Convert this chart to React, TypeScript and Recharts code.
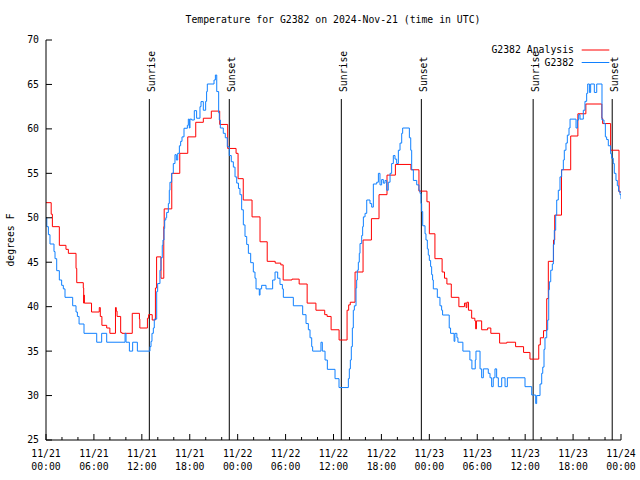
import React from 'react';
import { LineChart, Line, XAxis, YAxis, ReferenceLine, Legend } from 'recharts';

// hours since 11/21 00:00 UTC
const analysisHours = [
  0, 0.65, 0.8, 1.67, 2.5, 2.8, 3.76, 3.85, 4.67, 4.72, 4.75, 4.8, 5.7, 6.67, 6.8, 7.0, 7.6, 8.0,
  8.7, 8.8, 8.9, 9.35, 9.5, 10.8, 11.7, 11.75, 12.7, 12.85, 13.3, 13.7, 13.85, 14.4, 14.75, 14.8,
  15.75, 16.75, 17.75, 18.75, 19.7, 20.7, 21.75, 22.75, 23.8, 24.05, 24.7, 25.8, 26.8, 27.7, 28.7,
  29.4, 29.7, 30.8, 31.7, 32.7, 33.8, 34.9, 35.2, 35.7, 36.7, 37.7, 37.9, 38.1, 38.7, 39.7, 40.75,
  41.7, 42.7, 43.75, 45.7, 46.7, 47.7, 48.0, 48.7, 49.6, 49.9, 50.2, 50.75, 51.7, 52.4, 52.6, 52.7,
  52.9, 53.3, 53.7, 53.8, 53.9, 54.55, 55.3, 55.7, 56.8, 57.7, 58.8, 59.8, 60.6, 61.7, 61.9, 62.3,
  62.7, 62.9, 63.55, 63.7, 64.55, 65.7, 66.6, 67.6, 69.6, 69.7, 70.7, 71.75, 72,
];
const analysisTemps = [
  51.7, 50.4, 49.0, 46.9, 46.45, 46.0, 44.3, 42.7, 42.1, 40.4, 41.3, 40.4, 39.4, 39.9, 38.9, 37.9, 37.6, 37.0,
  39.9, 39.5, 38.9, 37.1, 37.0, 39.25, 38.6, 37.6, 38.7, 39.1, 38.5, 42.1, 45.6, 43.2, 49.0, 51.0,
  55.0, 57.25, 59.1, 60.74, 61.2, 62.0, 60.5, 57.8, 57.25, 54.4, 52.0, 50.1, 47.3, 45.1, 44.9,
  44.7, 43.0, 43.1, 42.55, 40.4, 39.6, 39.1, 38.9, 37.4, 36.25, 39.6, 40.2, 40.5, 43.9, 47.5, 49.9,
  52.6, 54.8, 56.0, 55.4, 53.0, 51.8, 48.2, 45.4, 43.9, 43.2, 42.55, 41.05, 40.0, 40.4, 39.9, 40.5,
  39.6, 38.7, 38.4, 37.5, 38.4, 37.4, 37.6, 37.0, 35.9, 36.0, 35.5, 34.85, 34.1, 35.7, 36.5, 37.3,
  40.9, 45.1, 47.5, 50.3, 55.4, 59.2, 61.7, 62.8, 61.2, 60.6, 57.6, 52.9, 52.9,
];

const stationHours = [
  0, 0.1, 0.3, 0.5, 1.0, 1.13, 1.34, 1.67, 1.96, 2.17, 2.38, 3.34, 3.76, 3.93, 4.14, 4.76, 6.35, 6.97,
  7.6, 9.9, 10.02, 10.44, 10.85, 11.44, 13.02, 13.15, 13.27, 13.44, 13.56, 13.86, 13.98, 14.27, 14.4,
  14.56, 14.65, 14.78, 14.86, 15.0, 15.11, 15.32, 15.44, 15.52, 15.73, 15.94, 16.15, 16.32, 16.49,
  16.7, 16.86, 17.03, 17.28, 17.7, 17.82, 17.95, 18.03, 18.24, 18.57, 18.86, 19.28, 19.41, 19.7,
  19.99, 20.11, 20.2, 21.04, 21.21, 21.38, 21.62, 21.7, 21.83, 22.2, 22.45, 22.7, 22.95, 23.2, 23.46,
  23.67, 23.88, 24.1, 24.29, 24.5, 24.71, 24.92, 25.13, 25.34, 25.63, 25.96, 26.17, 26.3, 26.71, 26.8,
  27.0, 27.55, 28.38, 28.68, 29.01, 29.3, 29.6, 29.72, 30.97, 32.14, 32.56, 32.85, 33.06, 33.27, 33.39,
  34.43, 34.6, 34.94, 35.23, 36.19, 36.69, 37.86, 37.98, 38.11, 38.23, 38.36, 38.48, 38.61, 38.82,
  38.9, 38.98, 39.11, 39.23, 39.32, 39.53, 39.65, 39.74, 39.95, 40.16, 40.57, 40.78, 40.99, 41.41,
  41.62, 41.82, 42.03, 42.24, 42.45, 42.66, 42.86, 43.08, 43.28, 43.49, 43.7, 43.91, 44.12, 44.33,
  44.54, 44.66, 45.5, 45.67, 45.79, 46.0, 46.42, 46.7, 46.83, 46.96, 47.04, 47.17, 47.46, 47.58,
  47.75, 47.87, 48.0, 48.16, 48.29, 48.41, 48.5, 49.0, 49.33, 49.54, 49.66, 50.49, 50.66, 51.1, 51.2,
  51.45, 51.58, 52.2, 53.08, 53.33, 53.75, 53.84, 54.35, 54.55, 54.76, 55.38, 55.6, 55.8, 56.0, 56.22,
  56.43, 56.64, 57.06, 57.48, 57.77, 59.98, 60.82, 61.32, 61.44, 61.86, 62.07, 62.2, 62.36, 62.48,
  62.7, 62.82, 62.95, 63.03, 63.2, 63.4, 63.53, 63.65, 63.82, 63.95, 64.15, 64.36, 64.57, 64.78,
  64.9, 65.11, 65.28, 65.49, 65.62, 66.37, 66.54, 66.7, 66.87, 67.28, 67.49, 67.7, 67.83, 68.04,
  68.2, 68.66, 68.96, 69.62, 69.87, 70.04, 70.2, 70.41, 70.7, 70.83, 71.03, 71.16, 71.37, 71.54,
  71.7, 71.87, 72.0,
];
const stationTemps = [
  50.0, 49.0, 48.1, 47.05, 46.2, 45.4, 44.05, 43.0, 42.4, 42.0, 41.05, 40.1, 39.4, 38.9, 38.05, 37.0, 36.0, 37.0,
  36.0, 37.0, 36.0, 35.0, 36.0, 35.0, 35.5, 36.1, 37.0, 37.6, 38.6, 41.7, 42.6, 44.1, 45.5,
  46.9, 47.5, 48.8, 49.75, 50.0, 50.6, 51.6, 53.1, 54.0, 55.0, 56.1, 57.1, 56.5, 57.25,
  58.1, 58.6, 59.1, 60.07, 60.4, 61.1, 60.1, 61.1, 61.0, 62.05, 61.2, 62.5, 63.07, 62.1,
  63.1, 64.2, 65.05, 65.5, 66.06, 64.2, 61.8, 61.0, 60.1, 59.5, 59.0, 58.0, 57.0, 56.3, 55.7,
  54.6, 53.9, 53.3, 52.6, 50.9, 49.2, 47.9, 47.0, 46.0, 44.95, 43.9, 43.2, 42.0, 41.3, 42.0,
  42.4, 42.0, 43.0, 43.9, 43.2, 42.5, 42.0, 41.05, 40.1, 39.1, 38.1, 37.4, 36.5, 35.5, 35.0,
  36.0, 35.0, 34.0, 32.95, 31.9, 30.9, 31.9, 33.0, 34.0, 35.5, 37.6, 39.6, 40.1, 42.1,
  43.0, 44.1, 45.0, 46.0, 47.1, 48.0, 49.0, 50.1, 50.5, 52.0, 51.6, 51.2, 53.8, 54.0,
  55.0, 53.7, 54.3, 53.9, 54.2, 53.1, 54.0, 55.0, 56.1, 57.0, 56.6, 56.1, 57.6, 58.4,
  59.5, 60.1, 59.0, 57.6, 55.4, 54.2, 53.7, 53.1, 52.75, 51.6, 50.7, 49.1, 48.2, 47.5,
  46.5, 45.8, 45.2, 44.5, 43.6, 43.0, 42.0, 41.05, 40.1, 39.6, 39.06, 37.6, 37.0, 36.1, 37.0,
  36.5, 36.0, 35.0, 34.0, 33.0, 34.0, 35.0, 33.0, 32.0, 33.0, 32.5, 32.0, 31.0, 32.0, 33.0,
  32.0, 31.0, 32.0, 31.0, 32.0, 31.0, 30.06, 29.1, 30.0, 31.3, 32.5, 33.2, 35.2, 36.5,
  37.4, 38.5, 41.9, 42.8, 44.1, 44.8, 47.0, 48.6, 50.3, 52.0, 53.1, 54.6, 55.4, 56.5,
  57.6, 58.4, 59.3, 60.1, 61.1, 60.1, 61.0, 61.6, 61.1, 62.1, 63.1, 64.0, 65.05, 64.1,
  65.05, 64.1, 65.05, 61.0, 60.6, 59.1, 58.8, 58.1, 57.2, 56.7, 56.1, 55.0, 54.2, 53.6,
  53.0, 52.6, 52.1,
];

const seriesNames = ['G2382 Analysis', 'G2382'];
const seriesColors = ['#ff0000', '#1080ff'];

const sunHours = [12.94, 22.95, 36.98, 47.0, 61.0, 70.9];
const sunLabels = ['Sunrise', 'Sunset', 'Sunrise', 'Sunset', 'Sunrise', 'Sunset'];
const sunLineTop = 63.36;

const xTickHours = [0, 6, 12, 18, 24, 30, 36, 42, 48, 54, 60, 66, 72];
const xTickDates = ['11/21', '11/21', '11/21', '11/21', '11/22', '11/22', '11/22', '11/22', '11/23', '11/23', '11/23', '11/23', '11/24'];
const xTickTimes = ['00:00', '06:00', '12:00', '18:00', '00:00', '06:00', '12:00', '18:00', '00:00', '06:00', '12:00', '18:00', '00:00'];
const xMinorTicks = Array.from({ length: 37 }, (_, i) => i * 2);
const yTicks = [25, 30, 35, 40, 45, 50, 55, 60, 65, 70];

const analysisData = analysisHours.map((h, i) => ({ h, t: analysisTemps[i] }));
const stationData = stationHours.map((h, i) => ({ h, t: stationTemps[i] }));

const FONT = '"DejaVu Sans Mono", monospace';
const FS = 9.8;
const txt = { fontFamily: FONT, fontSize: FS, fill: '#000' };

const BottomTick = (props: any) => {
  const { x, y, payload } = props;
  const i = xTickHours.indexOf(payload.value);
  const major = i >= 0;
  return (
    <g>
      <line x1={x} y1={y} x2={x} y2={y - (major ? 6 : 3)} stroke="#000" />
      {major && <text x={x} y={y + 17} textAnchor="middle" style={txt}>{xTickDates[i]}</text>}
      {major && <text x={x} y={y + 30} textAnchor="middle" style={txt}>{xTickTimes[i]}</text>}
    </g>
  );
};

const TopTick = (props: any) => {
  const { x, y, payload } = props;
  const major = xTickHours.includes(payload.value);
  return <line x1={x} y1={y} x2={x} y2={y + (major ? 6 : 3)} stroke="#000" />;
};

const LeftTick = (props: any) => {
  const { x, y, payload } = props;
  return (
    <g>
      <line x1={x} y1={y} x2={x + 6} y2={y} stroke="#000" />
      <text x={x - 7} y={y} dy="0.35em" textAnchor="end" style={txt}>{payload.value}</text>
    </g>
  );
};

const RightTick = (props: any) => {
  const { x, y } = props;
  return <line x1={x} y1={y} x2={x - 6} y2={y} stroke="#000" />;
};

const SunLabel = (props: any) => {
  const vb = props.viewBox || {};
  const x = vb.x ?? vb.x1 ?? 0;
  const top = vb.y ?? Math.min(vb.y1 ?? 0, vb.y2 ?? 0);
  const bx = x + 5.7;
  const by = top - 7;
  return (
    <text x={bx} y={by} transform={`rotate(-90, ${bx}, ${by})`} textAnchor="start" style={txt}>
      {props.text}
    </text>
  );
};

const LegendBox = (props: any) => {
  const items = props.payload || [];
  const colorOf = (name: string, i: number) => {
    const e = items.find((it: any) => it.value === name);
    return e ? e.color : seriesColors[i];
  };
  return (
    <svg width={140} height={28} style={{ display: 'block' }}>
      {seriesNames.map((name, i) => (
        <g key={name}>
          <text x={94} y={7 + 12.5 * i} dy="0.35em" textAnchor="end" style={txt}>{name}</text>
          <line x1={101.7} x2={129.3} y1={7 + 12.5 * i} y2={7 + 12.5 * i} stroke={colorOf(name, i)} />
        </g>
      ))}
    </svg>
  );
};

export default function App() {
  return (
    <div style={{ position: 'absolute', left: 0, top: 0, width: 640, height: 480, background: '#fff' }}>
      <LineChart width={640} height={480} margin={{ top: 40, right: 19, bottom: 0, left: 0 }}>
        <XAxis
          xAxisId="b"
          dataKey="h"
          type="number"
          domain={[0, 72]}
          allowDataOverflow
          ticks={xMinorTicks}
          interval={0}
          height={40}
          tickSize={0}
          tickMargin={0}
          tickLine={false}
          axisLine={{ stroke: '#000' }}
          tick={<BottomTick />}
        />
        <XAxis
          xAxisId="t"
          orientation="top"
          dataKey="h"
          type="number"
          domain={[0, 72]}
          allowDataOverflow
          ticks={xMinorTicks}
          interval={0}
          height={0}
          tickSize={0}
          tickMargin={0}
          tickLine={false}
          axisLine={{ stroke: '#000' }}
          tick={<TopTick />}
        />
        <YAxis
          yAxisId="l"
          type="number"
          domain={[25, 70]}
          allowDataOverflow
          ticks={yTicks}
          interval={0}
          width={46}
          tickSize={0}
          tickMargin={0}
          tickLine={false}
          axisLine={{ stroke: '#000' }}
          tick={<LeftTick />}
        />
        <YAxis
          yAxisId="r"
          orientation="right"
          type="number"
          domain={[25, 70]}
          allowDataOverflow
          ticks={yTicks}
          interval={0}
          width={0}
          tickSize={0}
          tickMargin={0}
          tickLine={false}
          axisLine={{ stroke: '#000' }}
          tick={<RightTick />}
        />
        {sunHours.map((h, i) => (
          <ReferenceLine
            key={i}
            xAxisId="b"
            yAxisId="l"
            segment={[{ x: h, y: 25 }, { x: h, y: sunLineTop }]}
            stroke="#000"
            strokeWidth={1}
            label={<SunLabel text={sunLabels[i]} />}
          />
        ))}
        <Line
          xAxisId="b"
          yAxisId="l"
          data={analysisData}
          dataKey="t"
          name={seriesNames[0]}
          type="stepAfter"
          stroke={seriesColors[0]}
          strokeWidth={1}
          dot={false}
          isAnimationActive={false}
        />
        <Line
          xAxisId="b"
          yAxisId="l"
          data={stationData}
          dataKey="t"
          name={seriesNames[1]}
          type="stepAfter"
          stroke={seriesColors[1]}
          strokeWidth={1}
          dot={false}
          isAnimationActive={false}
        />
        <Legend
          layout="horizontal"
          verticalAlign="middle"
          align="center"
          wrapperStyle={{ position: 'absolute', left: 480, top: 43, width: 140, height: 28 }}
          content={<LegendBox />}
        />
      </LineChart>
      <svg width={640} height={480} style={{ position: 'absolute', left: 0, top: 0, pointerEvents: 'none' }}>
        <text x={333} y={20} dy="0.35em" textAnchor="middle" style={txt}>
          Temperature for G2382 on 2024-Nov-21 (time in UTC)
        </text>
        <text x={11} y={240} dy="0.35em" textAnchor="middle" transform="rotate(-90, 11, 240)" style={txt}>
          degrees F
        </text>
      </svg>
    </div>
  );
}
